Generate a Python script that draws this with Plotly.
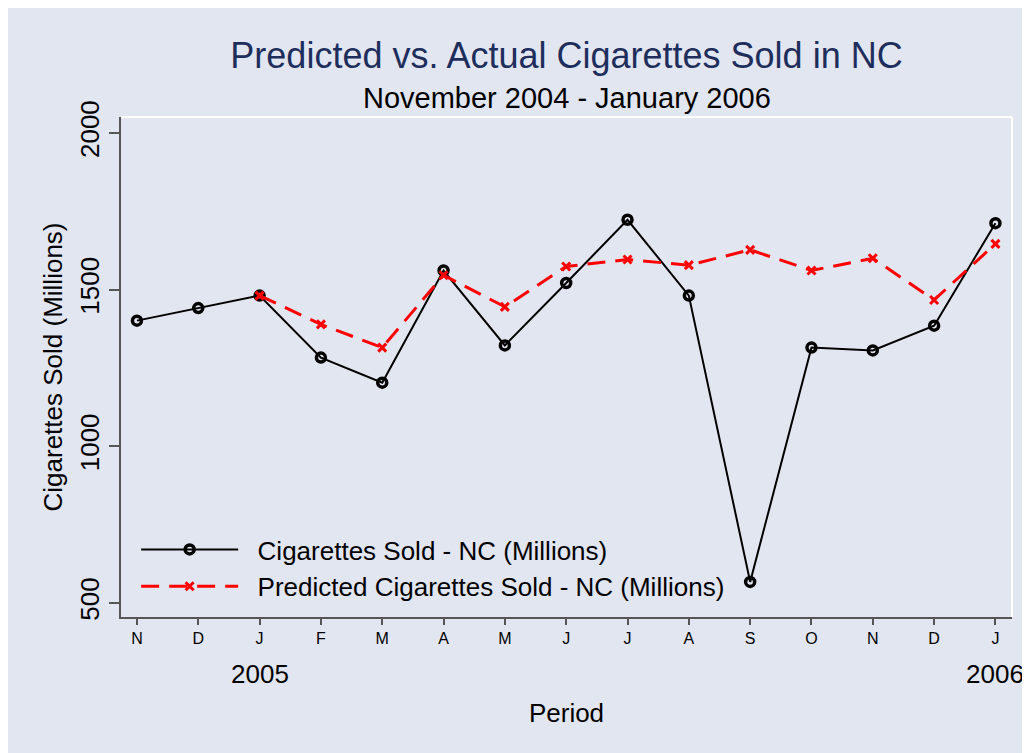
import plotly.graph_objects as go

months = ["N", "D", "J", "F", "M", "A", "M", "J", "J", "A", "S", "O", "N", "D", "J"]
period = list(range(len(months)))
actual = [1401, 1441, 1481, 1283, 1203, 1561, 1322, 1521, 1723, 1481, 567, 1315, 1306, 1385, 1712]
predicted = [None, None, 1481, 1389, 1315, 1546, 1445, 1574, 1596, 1578, 1627, 1561, 1600, 1467, 1646]
year_labels = ["2005", "2006"]
year_pos = [2, 14]
yticks = [500, 1000, 1500, 2000]

BG = "#e2e6f0"
FONT = "Liberation Sans, Arial, sans-serif"
W, H = 1030, 753
OFF = 8  # page body margin
ML, MT = 121 - OFF, 117 - OFF
MR = W - (1012 - OFF)
MB = H - (617 - OFF)
PW, PH = W - ML - MR, H - MT - MB


def py(screen_y):
    return (H - MB - (screen_y - OFF)) / PH


GAP = "&nbsp;&nbsp;"

fig = go.Figure()
fig.add_trace(go.Scatter(
    x=period, y=actual, mode="lines+markers",
    name=GAP + "Cigarettes Sold - NC (Millions)",
    line=dict(color="black", width=2),
    marker=dict(symbol="circle-open", size=9, color="black", line=dict(width=3.5, color="black")),
))
fig.add_trace(go.Scatter(
    x=period, y=predicted, mode="lines+markers",
    name=GAP + "Predicted Cigarettes Sold - NC (Millions)",
    line=dict(color="#ff0000", width=3, dash="18px,10px"),
    marker=dict(symbol="x-thin-open", size=8, color="#ff0000", line=dict(width=3, color="#ff0000")),
))

for lab, pos in zip(year_labels, year_pos):
    fig.add_annotation(x=pos, y=py(674), xref="x", yref="paper",
                       text=lab, showarrow=False, font=dict(size=26, color="black", family=FONT),
                       xanchor="center", yanchor="middle")

fig.add_annotation(x=0.5, y=py(98), xref="paper", yref="paper",
                   text="November 2004 - January 2006", showarrow=False,
                   font=dict(size=29, color="black", family=FONT),
                   xanchor="center", yanchor="middle")

shapes = [
    dict(type="line", xref="paper", yref="paper", x0=0, x1=1, y0=1, y1=1,
         line=dict(color="white", width=2), layer="below"),
    dict(type="line", xref="paper", yref="paper", x0=1, x1=1, y0=0, y1=1,
         line=dict(color="white", width=2), layer="below"),
]

fig.update_layout(
    width=W, height=H,
    margin=dict(l=ML, r=MR, t=MT, b=MB, autoexpand=False),
    paper_bgcolor=BG, plot_bgcolor=BG,
    font=dict(family=FONT, color="black"),
    title=dict(
        text="Predicted vs. Actual Cigarettes Sold in NC",
        font=dict(size=36, color="#1e2e5c", family=FONT),
        x=(ML + PW / 2) / W, xanchor="center",
        y=1 - (55 - OFF) / H, yanchor="middle",
    ),
    xaxis=dict(
        range=[-0.26, 14.27], tickmode="array", tickvals=period, ticktext=months,
        showgrid=False, zeroline=False, showline=True, linecolor="#555555", linewidth=2,
        ticks="outside", ticklen=6, tickcolor="#555555", tickwidth=1.5,
        tickfont=dict(size=16, color="black"),
        title=dict(text="Period", font=dict(size=26, color="black"), standoff=58),
    ),
    yaxis=dict(
        range=[455, 2051], tickmode="array", tickvals=yticks,
        showgrid=False, zeroline=False, showline=True, linecolor="#555555", linewidth=2,
        ticks="outside", ticklen=10, tickcolor="#555555", tickwidth=1.5,
        tickangle=-90, tickfont=dict(size=26, color="black"),
        title=dict(text="Cigarettes Sold (Millions)", font=dict(size=26, color="black"), standoff=4),
    ),
    legend=dict(
        x=0.017, y=0.014, xanchor="left", yanchor="bottom",
        bgcolor="rgba(0,0,0,0)", borderwidth=0,
        font=dict(size=26, color="black"), itemwidth=97, tracegroupgap=0,
    ),
    shapes=shapes,
    showlegend=True,
)

fig.write_html("out.html")
